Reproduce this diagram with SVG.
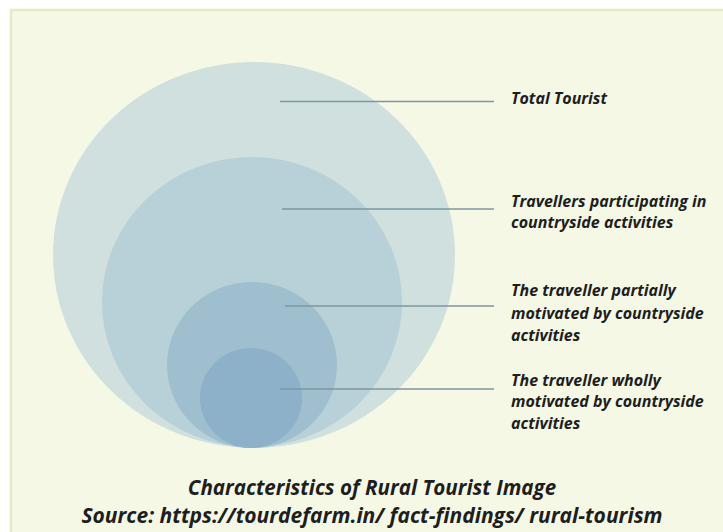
<svg xmlns="http://www.w3.org/2000/svg" width="723" height="532" viewBox="0 0 723 532">
<style>
.lbl{font-family:"Open Sans",Lato,sans-serif;font-weight:bold;font-style:italic;font-size:16px;fill:#1e1e1e}
.cap{font-family:"Open Sans",Lato,sans-serif;font-weight:bold;font-style:italic;font-size:21px;fill:#1e1e1e;text-anchor:middle}
.ln{stroke:#7d97a1;stroke-width:1.6;fill:none}
</style>
<rect x="0" y="0" width="723" height="532" fill="#ffffff"/>
<rect x="10" y="9" width="713" height="523" fill="#f6f8e6"/>
<path d="M11 532 V10 H723" stroke="#e3ebc4" stroke-width="2.5" fill="none"/>
<g id="total"><ellipse cx="254" cy="255" rx="201" ry="193" fill="#cfe0de"/></g>
<g id="participating"><ellipse cx="252" cy="302" rx="150" ry="145" fill="#b8d0d7"/></g>
<g id="partially"><ellipse cx="252" cy="365" rx="85" ry="83" fill="#9fbfcf"/></g>
<g id="wholly"><ellipse cx="251" cy="398" rx="51" ry="50" fill="#8cb1c8"/></g>
<g id="connectors">
<line class="ln" x1="280" y1="101.5" x2="494" y2="101.5"/>
<line class="ln" x1="282" y1="209" x2="494" y2="209"/>
<line class="ln" x1="285" y1="306" x2="494" y2="306"/>
<line class="ln" x1="280" y1="389" x2="494" y2="389"/>
</g>
<g id="labels">
<text class="lbl" x="511" y="104">Total Tourist</text>
<text class="lbl" x="511" y="207">Travellers participating in</text>
<text class="lbl" x="511" y="228">countryside activities</text>
<text class="lbl" x="511" y="296">The traveller partially</text>
<text class="lbl" x="511" y="319">motivated by countryside</text>
<text class="lbl" x="511" y="341">activities</text>
<text class="lbl" x="511" y="386">The traveller wholly</text>
<text class="lbl" x="511" y="407">motivated by countryside</text>
<text class="lbl" x="511" y="429">activities</text>
</g>
<g id="caption">
<text class="cap" x="372" y="495" style="font-size:20.6px">Characteristics of Rural Tourist Image</text>
<text class="cap" x="372" y="523">Source: https://tourdefarm.in/ fact-findings/ rural-tourism</text>
</g>
</svg>
